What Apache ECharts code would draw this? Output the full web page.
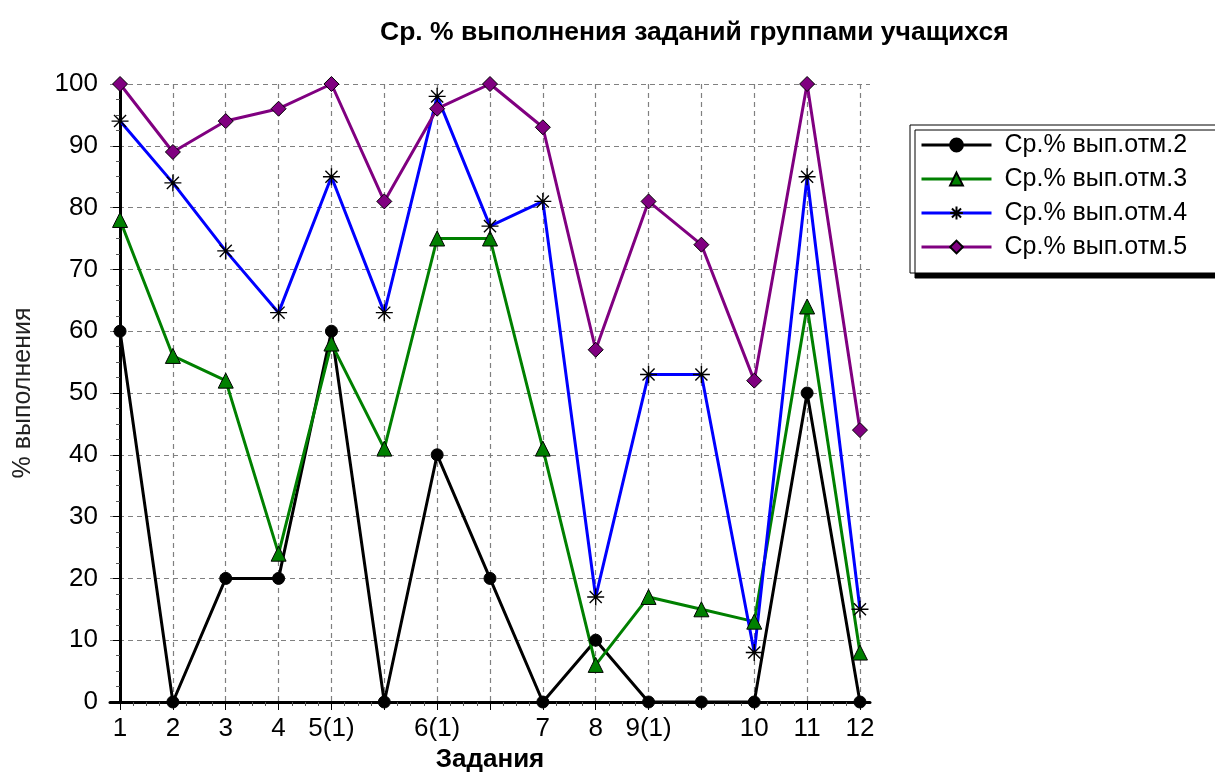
<!DOCTYPE html>
<html>
<head>
<meta charset="utf-8">
<script src="https://cdn.jsdelivr.net/npm/echarts@6/dist/echarts.min.js"></script>
<style>html,body{margin:0;padding:0;background:#fff;}#c{width:1215px;height:778px;}</style>
</head>
<body>
<div id="c"></div>
<script>
const categories = ['1','2','3','4','5(1)','','6(1)','','7','8','9(1)','','10','11','12'];
const seriesNames = ['Ср.% вып.отм.2','Ср.% вып.отм.3','Ср.% вып.отм.4','Ср.% вып.отм.5'];
const otm2 = [60, 0, 20, 20, 60, 0, 40, 20, 0, 10, 0, 0, 0, 50, 0];
const otm3 = [78, 56, 52, 24, 58, 41, 75, 75, 41, 6, 17, 15, 13, 64, 8];
const otm4 = [94, 84, 73, 63, 85, 63, 98, 77, 81, 17, 53, 53, 8, 85, 15];
const otm5 = [100, 89, 94, 96, 100, 81, 96, 100, 93, 57, 81, 74, 52, 100, 44];
const yTicks = [0,10,20,30,40,50,60,70,80,90,100];

const FONT = '"Liberation Sans", Arial, sans-serif';
const idx = categories.map((c,i)=>i);
const minorX = [];
idx.forEach(i => { [0.25,0.5,0.75].forEach(f => { if (i + f < categories.length - 1 + 0.19) minorX.push(i + f); }); });

const toPairs = arr => arr.map((v,i)=>[i, v]);
const starPath = 'path://M10 0 L10 20 M0 10 L20 10 M2.9 2.9 L17.1 17.1 M17.1 2.9 L2.9 17.1';

const chart = echarts.init(document.getElementById('c'), null, {renderer:'canvas'});
chart.setOption({
  animation: false,
  backgroundColor: '#fff',
  title: {
    text: 'Ср. % выполнения заданий группами учащихся',
    left: 375, top: 14,
    textStyle: {fontFamily: FONT, fontWeight: 'bold', fontSize: 26.5, color: '#000'}
  },
  legend: {
    left: 910, top: 125, orient: 'vertical',
    padding: [7, 30, 13, 10],
    itemWidth: 70, itemHeight: 16, itemGap: 8,
    backgroundColor: '#fff',
    borderColor: '#000', borderWidth: 1,
    shadowColor: '#000', shadowOffsetX: 5, shadowOffsetY: 5, shadowBlur: 0,
    lineStyle: {width: 3},
    textStyle: {fontFamily: FONT, fontSize: 25, color: '#000', lineHeight: 26, padding: [0,0,0,8]},
    data: seriesNames
  },
  grid: {left: 110, right: 345, top: 84, bottom: 76, containLabel: false},
  xAxis: [{
    type: 'value', min: -0.19, max: categories.length - 1 + 0.19,
    name: 'Задания', nameLocation: 'middle', nameGap: 38,
    nameTextStyle: {fontFamily: FONT, fontWeight: 'bold', fontSize: 26, color: '#000'},
    axisLine: {show: true, onZero: false, lineStyle: {color: '#000', width: 3}},
    axisTick: {show: true, customValues: idx, length: 8, lineStyle: {color: '#000', width: 1}},
    axisLabel: {customValues: idx, margin: 14, formatter: v => categories[Math.round(v)],
      fontFamily: FONT, fontSize: 26, color: '#000'},
    splitLine: {show: true, lineStyle: {color: '#808080', type: [5,4], width: 1.2}}
  },{
    type: 'value', min: -0.19, max: categories.length - 1 + 0.19, position: 'bottom',
    axisLine: {show: false},
    axisTick: {show: true, customValues: minorX, length: 4, lineStyle: {color: '#555', width: 1}},
    axisLabel: {show: false},
    splitLine: {show: false}
  }],
  yAxis: {
    type: 'value', min: 0, max: 100, interval: 10,
    name: '% выполнения', nameLocation: 'middle', nameGap: 74, nameRotate: 90,
    nameTextStyle: {fontFamily: FONT, fontSize: 25, color: '#222'},
    axisLine: {show: true, lineStyle: {color: '#000', width: 3}},
    axisTick: {show: true, length: 7, lineStyle: {color: '#000', width: 1}},
    minorTick: {show: true, splitNumber: 4, length: 4, lineStyle: {color: '#555'}},
    axisLabel: {margin: 12, fontFamily: FONT, fontSize: 26, color: '#000',
      formatter: v => yTicks.indexOf(v) >= 0 ? String(v) : ''},
    splitLine: {show: true, lineStyle: {color: '#808080', type: [5,4], width: 1.2}}
  },
  series: [
    {name: seriesNames[0], type: 'line', data: toPairs(otm2), symbol: 'circle', symbolSize: 12,
      lineStyle: {color: '#000', width: 3}, itemStyle: {color: '#000', borderColor: '#000', borderWidth: 1}},
    {name: seriesNames[1], type: 'line', data: toPairs(otm3), symbol: 'triangle', symbolSize: 15,
      lineStyle: {color: '#008000', width: 3}, itemStyle: {color: '#008000', borderColor: '#000', borderWidth: 1}},
    {name: seriesNames[2], type: 'line', data: toPairs(otm4), symbol: starPath, symbolSize: 17,
      lineStyle: {color: '#0000ff', width: 3}, itemStyle: {color: '#000', borderColor: '#000', borderWidth: 1.4}},
    {name: seriesNames[3], type: 'line', data: toPairs(otm5), symbol: 'diamond', symbolSize: 15,
      lineStyle: {color: '#800080', width: 3}, itemStyle: {color: '#800080', borderColor: '#000', borderWidth: 1}}
  ]
});
</script>
</body>
</html>
